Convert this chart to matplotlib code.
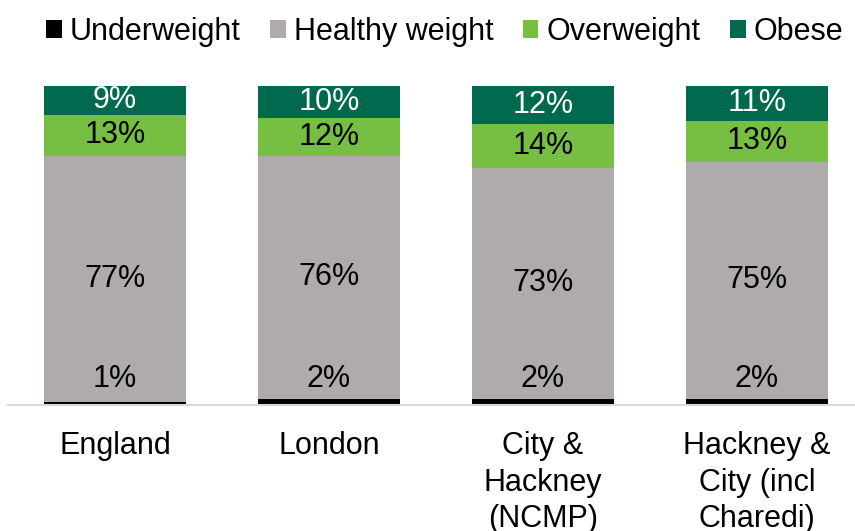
import matplotlib
matplotlib.use("Agg")
import matplotlib.pyplot as plt
import numpy as np

# ── data ──────────────────────────────────────────────────────────────────────
areas = ["England", "London", "City &\nHackney\n(NCMP)", "Hackney &\nCity (incl\nCharedi)"]
categories = ["Underweight", "Healthy weight", "Overweight", "Obese"]

underweight = [1, 2, 2, 2]
healthy     = [77, 76, 73, 75]
overweight  = [13, 12, 14, 13]
obese       = [9, 10, 12, 11]

# ── colours ───────────────────────────────────────────────────────────────────
C_UNDER   = "#000000"
C_HEALTHY = "#AFABAB"
C_OVER    = "#76BF43"
C_OBESE   = "#00694E"
C_AXIS    = "#D9D9D9"

plt.rcParams["font.family"] = ["Liberation Sans", "DejaVu Sans"]
FS = 22

series = np.array([underweight, healthy, overweight, obese], dtype=float)
totals = series.sum(axis=0)
shares = series / totals * 100   # 100% stacked

fig = plt.figure(figsize=(8.55, 5.31), dpi=100)
ax = fig.add_axes([8 / 855, 126 / 531, 856 / 855, 319 / 531])

x = np.arange(len(areas))
bar_w = 0.664
colors = [C_UNDER, C_HEALTHY, C_OVER, C_OBESE]
label_colors = ["black", "black", "black", "white"]

bottom = np.zeros(len(areas))
for k, (name, col) in enumerate(zip(categories, colors)):
    ax.bar(x, shares[k], bar_w, bottom=bottom, color=col, label=name, linewidth=0)
    for i in range(len(areas)):
        txt = f"{int(series[k, i])}%"
        if k == 0:
            # underweight is too thin to hold its label, so lift it into the grey
            ax.annotate(txt, xy=(x[i], 0), xytext=(0, 19), textcoords="offset points",
                        ha="center", va="center", fontsize=FS, color=label_colors[k])
        else:
            ax.text(x[i], bottom[i] + shares[k, i] / 2, txt, ha="center", va="center",
                    fontsize=FS, color=label_colors[k])
    bottom += shares[k]

ax.set_xlim(-0.5, 3.5)
ax.set_ylim(0, 100)
ax.set_xticks(x)
ax.set_xticklabels(areas, fontsize=FS, linespacing=1.28, va="top")
ax.tick_params(axis="x", length=0, pad=19)
ax.set_yticks([])
for s in ["top", "right", "left"]:
    ax.spines[s].set_visible(False)
ax.spines["bottom"].set_color(C_AXIS)
ax.spines["bottom"].set_linewidth(1.5)

fig.legend(loc="center", bbox_to_anchor=(0.52, 1 - 32 / 531), ncol=4, frameon=False,
           fontsize=FS, handlelength=0.52, handleheight=0.52, handletextpad=0.27,
           columnspacing=0.95, borderaxespad=0)

fig.savefig("out.png", dpi=100)
